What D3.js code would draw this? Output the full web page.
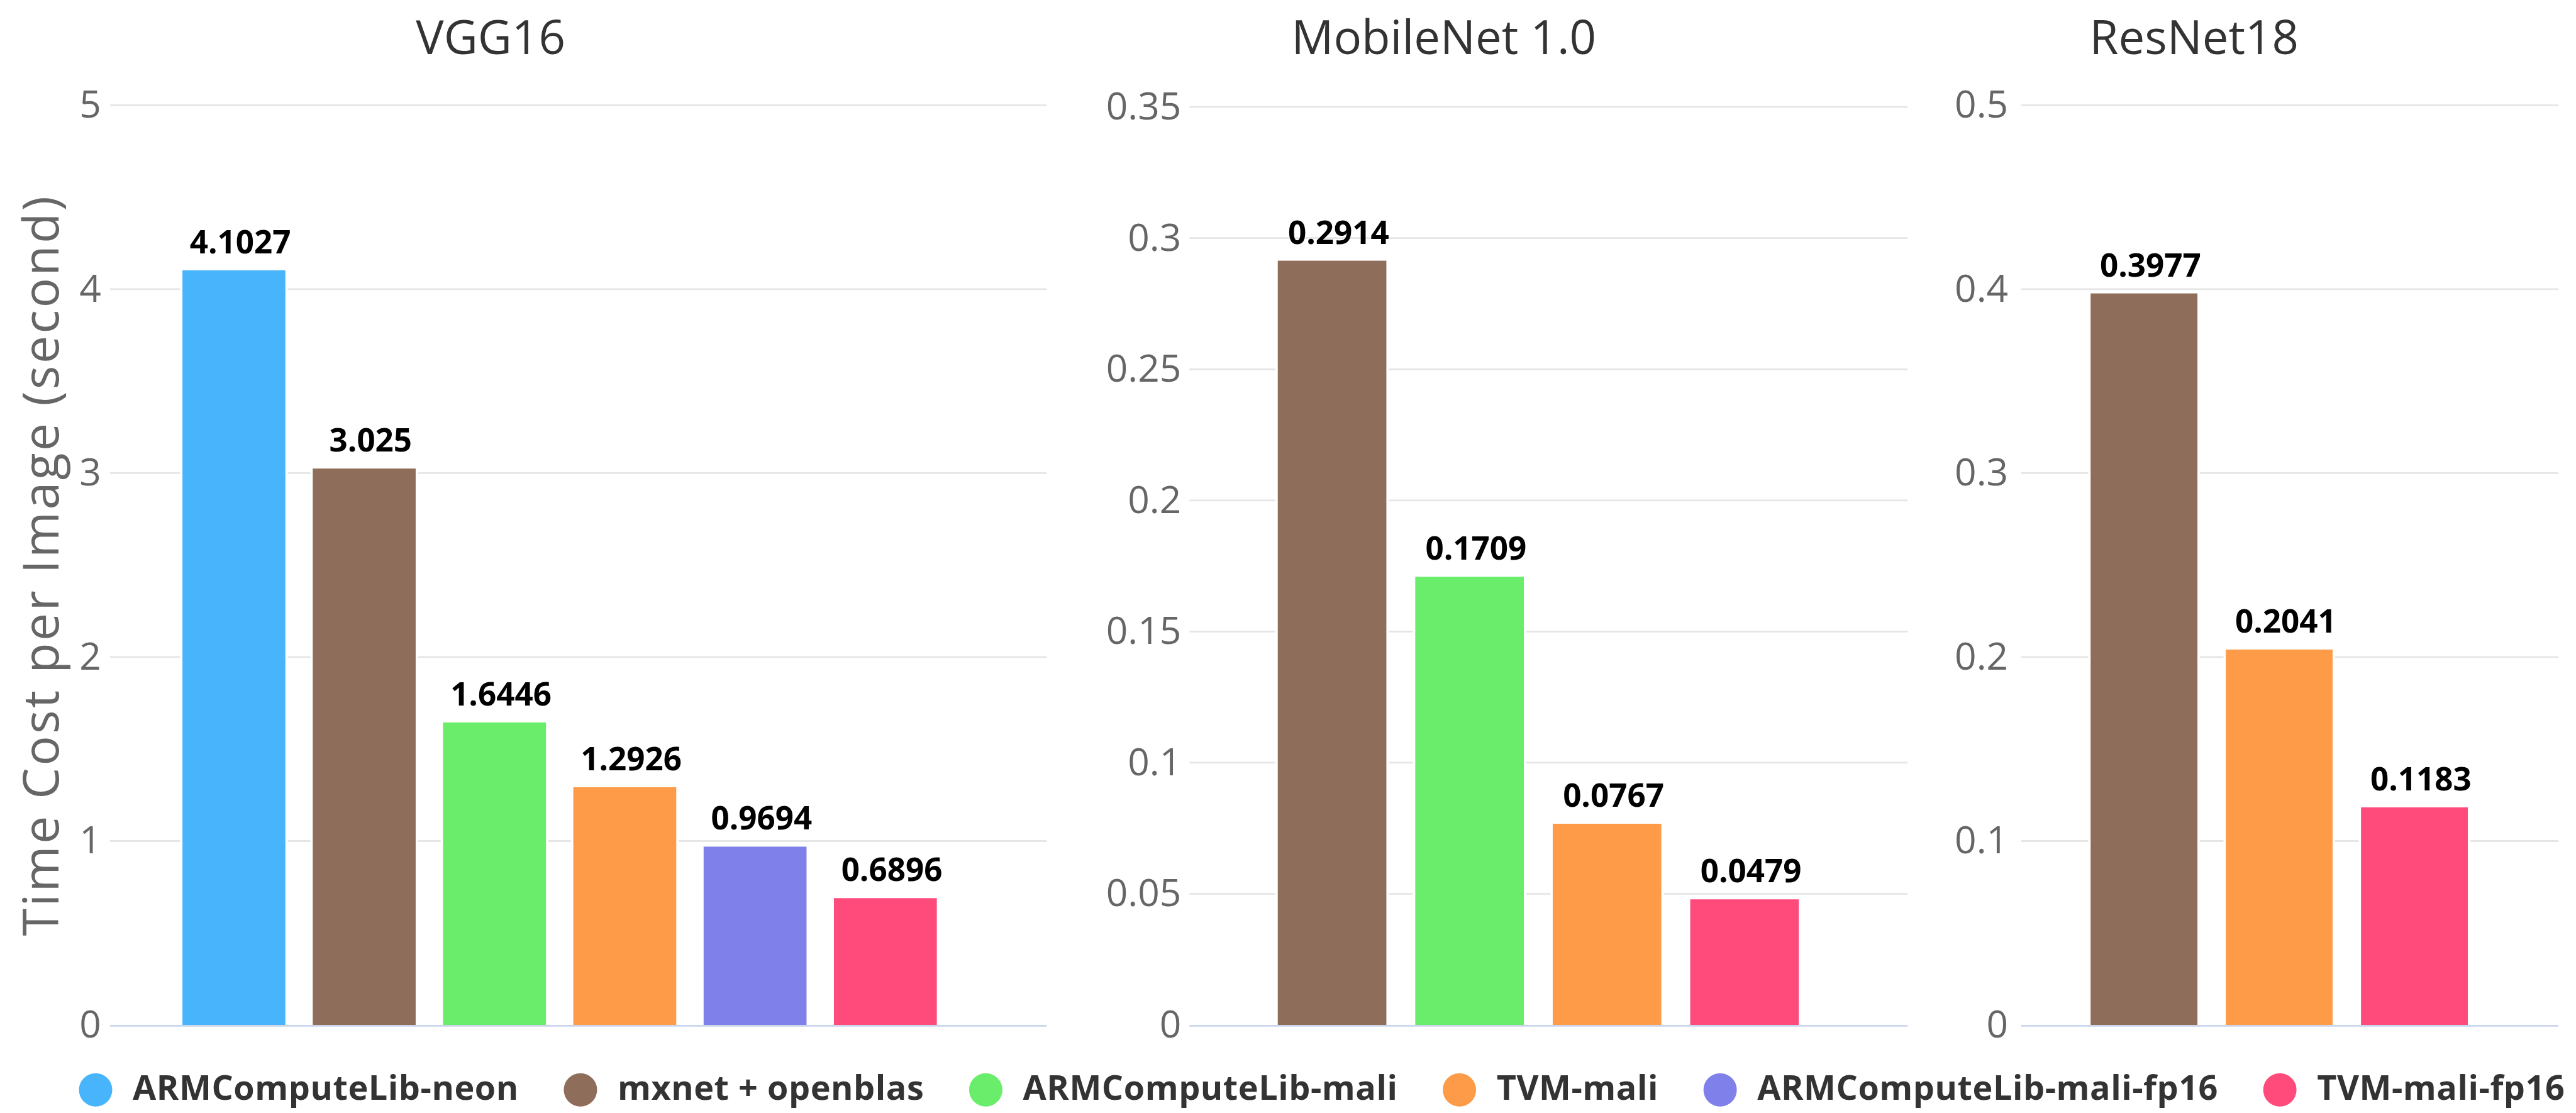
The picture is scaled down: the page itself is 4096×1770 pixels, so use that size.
<!DOCTYPE html>
<html>
<head>
<meta charset="utf-8">
<script src="https://cdn.jsdelivr.net/npm/d3@7"></script>
<style>
html,body{margin:0;padding:0;background:#fff;}
svg{display:block;}
</style>
</head>
<body>
<svg id="chart" width="4096" height="1770"></svg>
<script>
// ---------- data ----------
const seriesNames = ["ARMComputeLib-neon", "mxnet + openblas", "ARMComputeLib-mali", "TVM-mali", "ARMComputeLib-mali-fp16", "TVM-mali-fp16"];
const seriesColors = ["#48b4fb", "#8f6d5b", "#69ed6b", "#fd9b48", "#7f80ea", "#fe4b7b"];

const vggSeries = ["ARMComputeLib-neon", "mxnet + openblas", "ARMComputeLib-mali", "TVM-mali", "ARMComputeLib-mali-fp16", "TVM-mali-fp16"];
const vggValues = [4.1027, 3.025, 1.6446, 1.2926, 0.9694, 0.6896];
const vggTicks = [0, 1, 2, 3, 4, 5];

const mobilenetSeries = ["mxnet + openblas", "ARMComputeLib-mali", "TVM-mali", "TVM-mali-fp16"];
const mobilenetValues = [0.2914, 0.1709, 0.0767, 0.0479];
const mobilenetTicks = [0, 0.05, 0.1, 0.15, 0.2, 0.25, 0.3, 0.35];

const resnetSeries = ["mxnet + openblas", "TVM-mali", "TVM-mali-fp16"];
const resnetValues = [0.3977, 0.2041, 0.1183];
const resnetTicks = [0, 0.1, 0.2, 0.3, 0.4, 0.5];

const panelTitles = ["VGG16", "MobileNet 1.0", "ResNet18"];
const yAxisTitle = "Time Cost per Image (second)";

// ---------- layout (reference pixel units, scaled down as a whole) ----------
const S = 4096 / 4405;
const zeroY = 1753;
const layout = [
  {gx0: 188, gx1: 1790, bx0: 312, bx1: 1602, titleX: 839, top: 180, tickGap: 15},
  {gx0: 2034, gx1: 3262, bx0: 2185, bx1: 3076, titleX: 2469, top: 183, tickGap: 14},
  {gx0: 3456, gx1: 4375, bx0: 3575, bx1: 4220, titleX: 3752, top: 180, tickGap: 22}
];
const panelData = [
  {series: vggSeries, values: vggValues, ticks: vggTicks},
  {series: mobilenetSeries, values: mobilenetValues, ticks: mobilenetTicks},
  {series: resnetSeries, values: resnetValues, ticks: resnetTicks}
];

const color = d3.scaleOrdinal().domain(seriesNames).range(seriesColors);

const svg = d3.select("#chart");
const root = svg.append("g").attr("transform", `scale(${S})`);

panelData.forEach((pd, i) => {
  const L = layout[i];
  const tickMax = pd.ticks[pd.ticks.length - 1];
  const y = d3.scaleLinear().domain([0, tickMax]).range([zeroY, L.top]);
  const x = d3.scaleBand().domain(pd.series).range([L.bx0, L.bx1]).paddingInner(0.21).paddingOuter(0);
  const g = root.append("g");

  // title
  g.append("text")
    .attr("x", L.titleX).attr("y", 93)
    .attr("text-anchor", "middle")
    .attr("font-family", "'Open Sans', sans-serif")
    .attr("font-size", 80)
    .attr("fill", "#333")
    .text(panelTitles[i]);

  // y axis via d3.axisLeft
  const axis = d3.axisLeft(y).tickValues(pd.ticks).tickFormat(d => String(d))
    .tickSize(0).tickPadding(L.tickGap);
  const ag = g.append("g").attr("transform", `translate(${L.gx0},0)`).call(axis);
  ag.select(".domain").remove();
  ag.selectAll("text")
    .attr("font-family", "'Open Sans', sans-serif")
    .attr("font-size", 65)
    .attr("fill", "#666");

  // gridlines
  g.append("g").selectAll("line").data(pd.ticks.filter(t => t !== 0)).join("line")
    .attr("x1", L.gx0).attr("x2", L.gx1)
    .attr("y1", d => y(d)).attr("y2", d => y(d))
    .attr("stroke", "#e6e6e6").attr("stroke-width", 3);

  const bars = pd.series.map((s, k) => ({s, v: pd.values[k]}));

  // white halo around bars
  g.append("g").selectAll("rect").data(bars).join("rect")
    .attr("x", d => x(d.s) - 4).attr("width", x.bandwidth() + 8)
    .attr("y", d => y(d.v)).attr("height", d => y(0) - y(d.v))
    .attr("fill", "#fff");

  // bars
  g.append("g").selectAll("rect").data(bars).join("rect")
    .attr("x", d => x(d.s)).attr("width", x.bandwidth())
    .attr("y", d => y(d.v)).attr("height", d => y(0) - y(d.v))
    .attr("fill", d => color(d.s));

  // zero line
  g.append("line")
    .attr("x1", L.gx0).attr("x2", L.gx1)
    .attr("y1", y(0) + 1.5).attr("y2", y(0) + 1.5)
    .attr("stroke", "#ccd6eb").attr("stroke-width", 3);

  // value labels
  g.append("g").selectAll("text").data(bars).join("text")
    .attr("x", d => x(d.s) + x.bandwidth() / 2 + 11)
    .attr("y", d => y(d.v) - 29)
    .attr("text-anchor", "middle")
    .attr("font-family", "'Open Sans', sans-serif")
    .attr("font-weight", 700)
    .attr("font-size", 55)
    .attr("fill", "#000")
    .text(d => String(d.v));
});

// y axis title
root.append("text")
  .attr("transform", `translate(100,${(zeroY + 180) / 2}) rotate(-90)`)
  .attr("text-anchor", "middle")
  .attr("font-family", "'Open Sans', sans-serif")
  .attr("font-size", 85)
  .attr("letter-spacing", 3.5)
  .attr("fill", "#666")
  .text(yAxisTitle);

// legend (justified flow layout)
const legStart = 135, legEnd = 4386, r = 28.5, textOff = 92, legCy = 1864, legBase = 1881;
const lg = root.append("g");
const items = lg.selectAll("g").data(seriesNames).join("g");
items.append("circle").attr("r", r).attr("cy", legCy).attr("fill", d => color(d));
items.append("text")
  .attr("y", legBase)
  .attr("font-family", "'Open Sans', sans-serif")
  .attr("font-weight", 700)
  .attr("font-size", 58)
  .attr("letter-spacing", 0.6)
  .attr("fill", "#333")
  .text(d => d);
const widths = [];
items.select("text").each(function () { widths.push(this.getComputedTextLength()); });
const itemW = widths.map(w => textOff + w);
const gap = (legEnd - legStart - d3.sum(itemW)) / (seriesNames.length - 1);
let cx = legStart;
items.each(function (d, k) {
  const it = d3.select(this);
  it.select("circle").attr("cx", cx + r);
  it.select("text").attr("x", cx + textOff);
  cx += itemW[k] + gap;
});
</script>
</body>
</html>
